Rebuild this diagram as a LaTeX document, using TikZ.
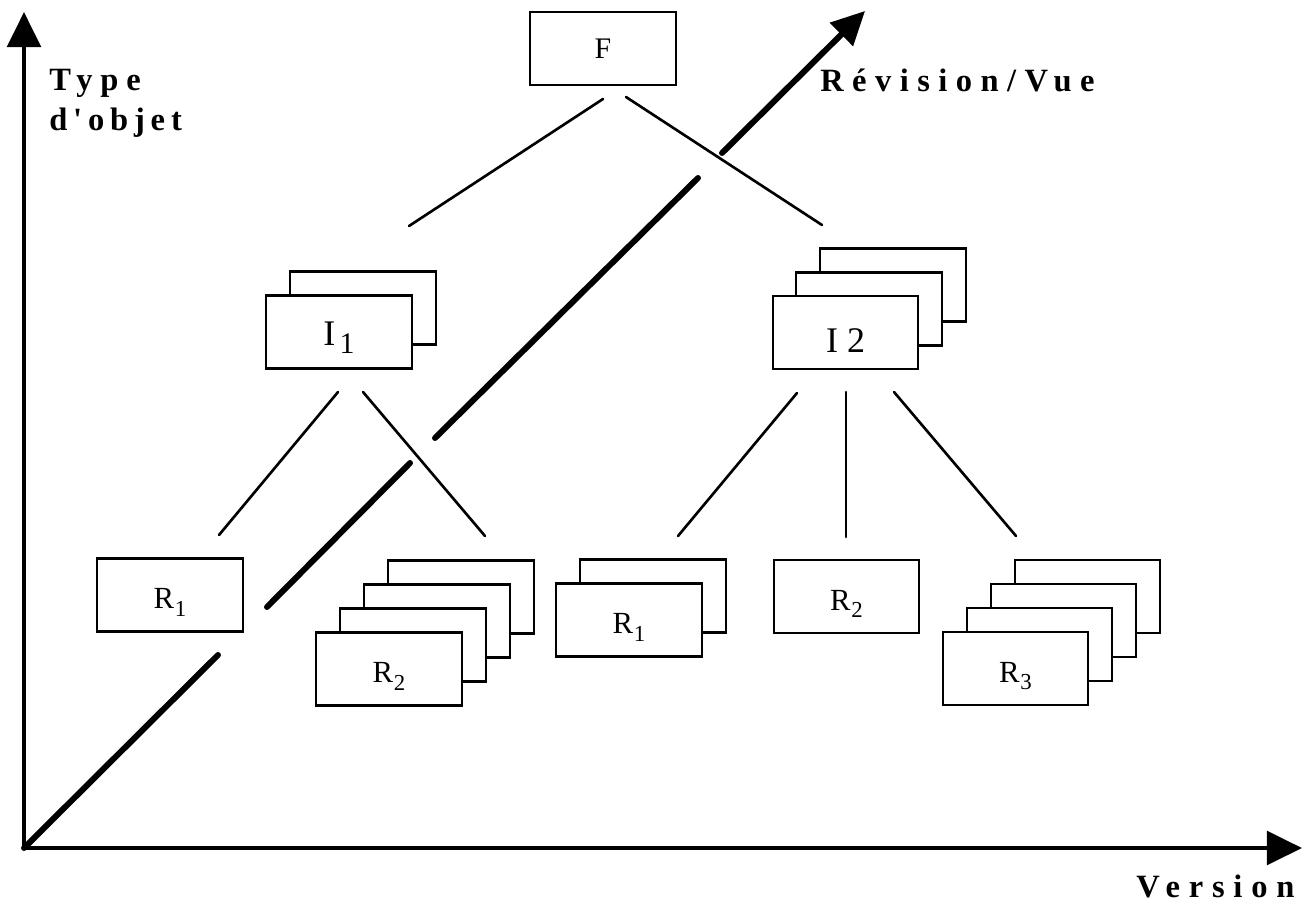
\documentclass[tikz,border=0pt]{standalone}
\usepackage{fontspec}
\setmainfont{Liberation Serif}
\usetikzlibrary{arrows.meta}
% lowered index digit used in the box labels
\newcommand\lowsub[2][13]{\kern0.4pt\raisebox{-4.2pt}{\fontsize{#1}{#1}\selectfont #2}}

\begin{document}
\begin{tikzpicture}[x=0.02cm,y=-0.02cm,
  card/.style={draw, line width=1.35pt, fill=white, minimum width=82.8pt,
    minimum height=41.4pt, inner sep=0pt, text height=15.9pt, text depth=0pt,
    font=\fontsize{17.5}{18}\selectfont},
  bigcard/.style={card, font=\fontsize{20.5}{21}\selectfont},
  link/.style={line width=1.5pt, line cap=round},
  axis/.style={line width=2.8pt, line join=miter,
    {Triangle[length=20pt,width=19pt]}-{Triangle[length=20pt,width=19pt]}},
  depth/.style={line width=3.4pt, line cap=round},
  axislabel/.style={anchor=base west, inner sep=0pt,
    font=\fontsize{18.5}{19}\selectfont\bfseries}
]
\useasboundingbox (0,0) rectangle (1311,912);

% axes
\coordinate (O) at (24,848);
\coordinate (ytip) at (24,12);
\coordinate (xtip) at (1302,848);
\draw[axis] (ytip) -- (O) -- (xtip);

% third axis, interrupted where it passes behind the tree
\coordinate (d1) at (218,655);
\coordinate (d2) at (267,607);
\coordinate (d3) at (410,463);
\coordinate (d4) at (435,438);
\coordinate (d5) at (698,178);
\coordinate (d6) at (722,153);
\coordinate (dtip) at (865,11);
\draw[depth] (O) -- (d1);
\draw[depth] (d2) -- (d3);
\draw[depth] (d4) -- (d5);
\draw[depth, -{Triangle[length=19pt,width=18pt]}] (d6) -- (dtip);

% axis labels
\node[axislabel] (ltype) at (49,91) {\addfontfeature{LetterSpace=24}Type};
\node[axislabel] (lobj) at (49,131) {\addfontfeature{LetterSpace=18}d\kern3.3pt\textquotesingle\kern3.3pt objet};
\node[axislabel] (lrev) at (820,92) {\addfontfeature{LetterSpace=26}Révision/Vue};
\node[axislabel] (lver) at (1136,897) {\addfontfeature{LetterSpace=27}Version};

% root
\node[card, text height=11.9pt, font=\fontsize{17}{17}\selectfont] (F) at (603,48.5) {F};

% intermediate level
\node[card] (I1-b) at (363,308) {};
\node[bigcard] (I1) at (339,332) {I\kern2pt\lowsub[17]{1}};

\node[card] (I2-c) at (893,285) {};
\node[card] (I2-b) at (869,309) {};
\node[bigcard, text height=22.7pt] (I2) at (845.5,332.5) {I 2};

% leaves
\node[card] (R1a) at (170,595) {R\lowsub{1}};

\node[card] (R2a-d) at (461,597) {};
\node[card] (R2a-c) at (437,621) {};
\node[card] (R2a-b) at (413,645) {};
\node[card] (R2a) at (389,669) {R\lowsub{2}};

\node[card] (R1b-b) at (653,596) {};
\node[card] (R1b) at (629,620) {R\lowsub{1}};

\node[card] (R2b) at (846.5,596.5) {R\lowsub{2}};

\node[card] (R3-d) at (1087.5,596.5) {};
\node[card] (R3-c) at (1063.5,620.5) {};
\node[card] (R3-b) at (1039.5,644.5) {};
\node[card] (R3) at (1015.5,668.5) {R\lowsub{3}};

% tree edges (drawn with gaps to the boxes)
\coordinate (F-l) at (603,99);
\coordinate (F-r) at (626,97);
\coordinate (I1-in) at (409,226);
\coordinate (I2-in) at (822,225);
\draw[link] (F-l) -- (I1-in);
\draw[link] (F-r) -- (I2-in);

\coordinate (I1-l) at (338,392);
\coordinate (I1-r) at (363,392);
\coordinate (R1a-in) at (219,535);
\coordinate (R2a-in) at (485,536);
\draw[link] (I1-l) -- (R1a-in);
\draw[link] (I1-r) -- (R2a-in);

\coordinate (I2-l) at (797,393);
\coordinate (I2-m) at (846,392);
\coordinate (I2-r) at (894,392);
\coordinate (R1b-in) at (678,536);
\coordinate (R2b-in) at (846,537);
\coordinate (R3-in) at (1016,536);
\draw[link] (I2-l) -- (R1b-in);
\draw[link] (I2-m) -- (R2b-in);
\draw[link] (I2-r) -- (R3-in);
\end{tikzpicture}
\end{document}
